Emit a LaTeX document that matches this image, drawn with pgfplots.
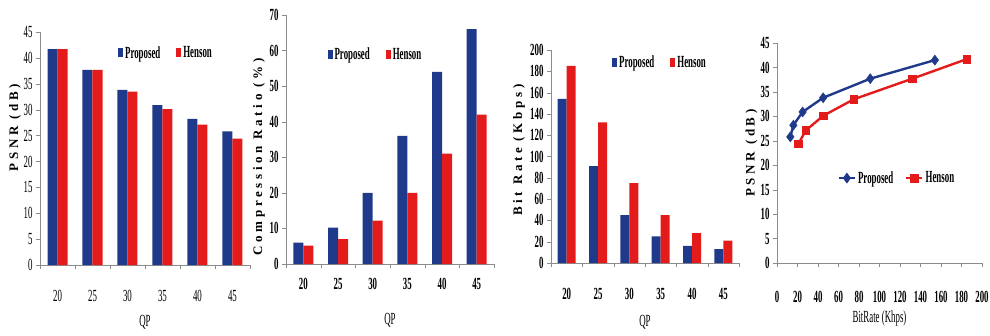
\documentclass[border=0pt]{standalone}
\usepackage{pgfplots}
\pgfplotsset{compat=1.18}
\usepackage{fontspec}
\setmainfont{Liberation Serif}[FakeStretch=0.52]
\newfontfamily\ylabfont{Liberation Serif}[LetterSpace=28]
\definecolor{navy}{HTML}{1F3A8A}
\definecolor{hred}{HTML}{E31B1B}
\definecolor{axgray}{HTML}{8C8C8C}
\pgfplotsset{
 base/.style={scale only axis, axis lines=left, axis line style={axgray,-},
   tick style={axgray}, tick align=outside, major tick length=4pt,
   tick label style={font=\fontsize{17}{17}\selectfont\bfseries},
   /pgf/number format/assume math mode=true,
   ylabel style={font=\ylabfont\bfseries\fontsize{13}{13}\selectfont, anchor=center, rotate=0},
   xlabel style={font=\fontsize{17}{17}\selectfont, anchor=center},
   legend style={draw=none, fill=none, legend columns=2, anchor=center,
     font=\fontsize{17}{17}\selectfont\bfseries,
     /tikz/every even column/.append style={column sep=14pt}},
   clip=false},
 barax/.style={base, ybar=0pt, bar width=10pt, xmin=-0.5, xmax=5.5,
   xtick={0,...,5}, xticklabels={20,25,30,35,40,45},
   major x tick style={draw=none}, minor xtick={-0.5,0.5,...,5.5}, minor tick length=4pt,
   ymin=0,
   legend image code/.code={\fill[##1] (0pt,-4pt) rectangle (5pt,5pt);}},
 lineleg/.style={legend image code/.code={\draw[##1,mark=none] (0pt,0pt) -- (16pt,0pt); \draw[##1,only marks] plot coordinates {(8pt,0pt)};}},
}
\begin{document}
\begin{tikzpicture}[x=1pt,y=1pt]
\useasboundingbox (0,0) rectangle (990,335);
% Panel 1: PSNR vs QP
\begin{axis}[barax, at={(40pt,70pt)}, anchor=south west, width=210pt, height=233pt,
  ymax=45, ytick={0,5,...,45},
  tick label style={font=\fontsize{17}{17}\selectfont},
  xticklabel style={yshift=-18pt},
  xlabel={QP}, xlabel style={at={(axis description cs:0.5,-0.245)}},
  ylabel={PSNR (dB)}, ylabel style={at={(axis description cs:-0.119,0.59)}},
  legend style={at={(0.6,0.91)}}]
\addplot[fill=navy, draw=none] coordinates {(0,41.7) (1,37.7) (2,33.8) (3,30.9) (4,28.2) (5,25.8)};
\addplot[fill=hred, draw=none] coordinates {(0,41.7) (1,37.7) (2,33.5) (3,30.1) (4,27.1) (5,24.4)};
\legend{Proposed,Henson}
\end{axis}
% Panel 2: Compression ratio
\begin{axis}[barax, at={(286pt,71pt)}, anchor=south west, width=208pt, height=249pt,
  ymax=70, ytick={0,10,...,70},
  xticklabel style={yshift=-7pt},
  xlabel={QP}, xlabel style={at={(axis description cs:0.5,-0.225)}},
  ylabel={Compression Ratio (\%)}, ylabel style={at={(axis description cs:-0.13,0.43)}},
  legend style={at={(0.43,0.84)}}]
\addplot[fill=navy, draw=none] coordinates {(0,6) (1,10.2) (2,20) (3,36) (4,54) (5,66)};
\addplot[fill=hred, draw=none] coordinates {(0,5.2) (1,7) (2,12.2) (3,20) (4,31) (5,42)};
\legend{Proposed,Henson}
\end{axis}
% Panel 3: Bit rate
\begin{axis}[barax, bar width=9pt, at={(551pt,72pt)}, anchor=south west, width=188pt, height=213pt,
  ymax=200, ytick={0,20,...,200},
  xticklabel style={yshift=-18pt},
  xlabel={QP}, xlabel style={at={(axis description cs:0.5,-0.277)}},
  ylabel={Bit Rate (Kbps)}, ylabel style={at={(axis description cs:-0.17,0.53)}},
  legend style={at={(0.58,0.94)}}]
\addplot[fill=navy, draw=none] coordinates {(0,154) (1,91) (2,45) (3,25) (4,16) (5,13)};
\addplot[fill=hred, draw=none] coordinates {(0,185) (1,132) (2,75) (3,45) (4,28) (5,21)};
\legend{Proposed,Henson}
\end{axis}
% Panel 4: PSNR vs BitRate
\begin{axis}[base, lineleg, at={(777pt,72pt)}, anchor=south west, width=205pt, height=220pt,
  xmin=0, xmax=200, xtick={0,20,...,200}, ymin=0, ymax=45, ytick={0,5,...,45},
  xticklabel style={yshift=-21pt},
  xlabel={BitRate (Khps)}, xlabel style={at={(axis description cs:0.5,-0.25)}},
  ylabel={PSNR (dB)}, ylabel style={at={(axis description cs:-0.125,0.5)}},
  legend style={at={(0.585,0.386)}, /tikz/every even column/.append style={column sep=10pt}}]
\addplot[navy, line width=2.4pt, mark=diamond*, mark size=5pt, mark options={fill=navy, line width=0.5pt}]
  coordinates {(13,25.8) (16,28.2) (25,30.9) (45,33.8) (91,37.7) (154,41.5)};
\addplot[hred, line width=2.4pt, mark=square*, mark size=3.8pt, mark options={fill=hred, line width=0.5pt}]
  coordinates {(21,24.4) (28,27.1) (45,30.1) (75,33.5) (132,37.7) (185,41.7)};
\legend{Proposed,Henson}
\end{axis}
\end{tikzpicture}
\end{document}
